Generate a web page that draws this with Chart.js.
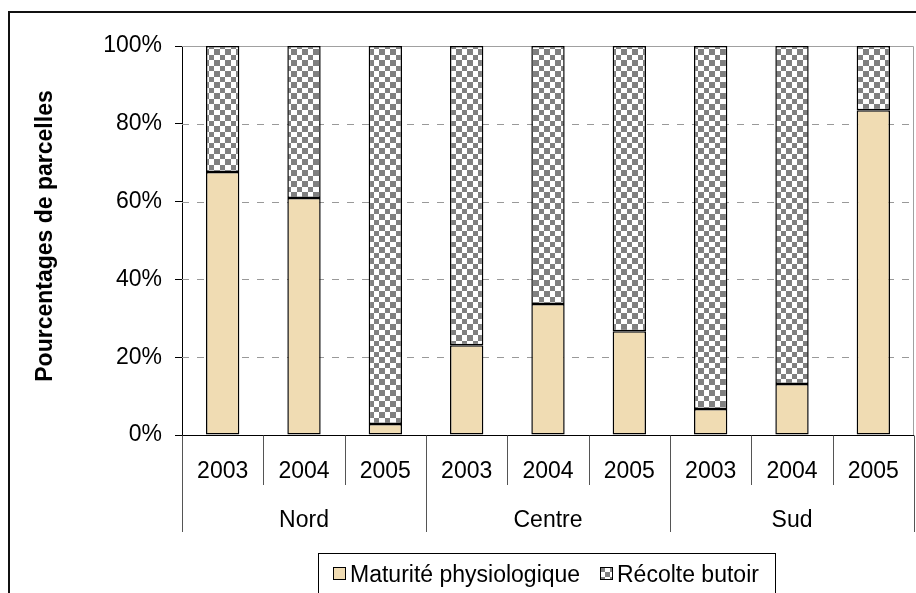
<!DOCTYPE html>
<html><head><meta charset="utf-8">
<script src="https://cdn.jsdelivr.net/npm/chart.js@4/dist/chart.umd.min.js"></script>
<style>
html,body{margin:0;padding:0;background:#fff;overflow:hidden}
#wrap{position:relative;width:916px;height:593px;overflow:hidden}
#frame{position:absolute;left:8px;top:11px;width:920px;height:600px;border:2px solid #111}
canvas{position:absolute;left:0;top:0}
</style></head>
<body><div id="wrap"><div id="frame"></div><canvas id="c" width="916" height="593"></canvas></div>
<script>
const years = ['2003','2004','2005','2003','2004','2005','2003','2004','2005'];
const regions = ['Nord','Centre','Sud'];
const yTicks = [0,20,40,60,80,100];
const maturite = [67.6, 60.9, 2.8, 23.1, 33.7, 26.7, 6.7, 13.1, 83.5];
const recolte  = [32.4, 39.1, 97.2, 76.9, 66.3, 73.3, 93.3, 86.9, 16.5];
const seriesNames = ['Maturité physiologique','Récolte butoir'];
const yTitle = 'Pourcentages de parcelles';

const FONT = '"Liberation Sans", Arial, sans-serif';
const beige = '#f0dcb3';

function checker(){
  const c = document.createElement('canvas'); c.width = 11; c.height = 11;
  const x = c.getContext('2d');
  x.fillStyle = '#fff'; x.fillRect(0,0,11,11);
  x.fillStyle = '#808080'; x.fillRect(0,0,5,5); x.fillRect(5,5,6,6);
  return x.createPattern(c,'repeat');
}
const ctx = document.getElementById('c').getContext('2d');
const checkPat = checker();

const decor = {
  id:'decor',
  beforeDatasetsDraw(chart){
    const {ctx, chartArea:a, scales:{y}} = chart;
    ctx.save();
    ctx.strokeStyle = '#999'; ctx.lineWidth = 1;
    ctx.setLineDash([7,8]);
    yTicks.forEach(v=>{
      if(v===0||v===100) return;
      const py = Math.round(y.getPixelForValue(v))+0.5;
      ctx.beginPath(); ctx.moveTo(a.left,py); ctx.lineTo(a.right,py); ctx.stroke();
    });
    ctx.setLineDash([]);
    ctx.strokeStyle = '#a0a0a0';
    const pt = Math.round(y.getPixelForValue(100))+0.5;
    ctx.beginPath(); ctx.moveTo(a.left,pt); ctx.lineTo(a.right-0.5,pt);
    ctx.lineTo(a.right-0.5,a.bottom); ctx.stroke();
    ctx.restore();
  },
  afterDraw(chart){
    const {ctx, chartArea:a, scales:{x}} = chart;
    ctx.save();
    const b = Math.round(a.bottom)+0.5;
    ctx.strokeStyle = '#000'; ctx.lineWidth = 1;
    ctx.beginPath(); ctx.moveTo(a.left,b); ctx.lineTo(a.right,b); ctx.stroke();
    const w = (a.right-a.left)/years.length;
    ctx.strokeStyle = '#555';
    for(let i=0;i<=years.length;i++){
      const px = Math.round(a.left + i*w)+0.5;
      const long = i%3===0;
      ctx.beginPath(); ctx.moveTo(px,b); ctx.lineTo(px, long?532:485); ctx.stroke();
    }
    ctx.fillStyle = '#000';
    ctx.font = '23px '+FONT; ctx.textAlign='center'; ctx.textBaseline='alphabetic';
    years.forEach((yr,i)=>{ ctx.fillText(yr, x.getPixelForValue(i), 478); });
    regions.forEach((r,g)=>{ ctx.fillText(r, a.left + (g*3+1.5)*w, 527); });
    // y title
    ctx.save();
    ctx.translate(46,236); ctx.rotate(-Math.PI/2);
    ctx.font = 'bold 23px '+FONT; ctx.textBaseline='middle';
    ctx.fillText(yTitle,0,0);
    ctx.restore();
    // legend
    ctx.strokeStyle='#000'; ctx.lineWidth=1;
    ctx.strokeRect(318.5,553.5,457,60);
    ctx.font = '23px '+FONT; ctx.textAlign='left';
    const items = [{x:333, fill:beige, label:seriesNames[0]},{x:600, fill:checkPat, label:seriesNames[1]}];
    items.forEach(it=>{
      ctx.fillStyle = it.fill; ctx.fillRect(it.x+0.5,567.5,12,12);
      ctx.strokeStyle='#000'; ctx.strokeRect(it.x+0.5,567.5,12,12);
      ctx.fillStyle='#000'; ctx.fillText(it.label, it.x+17, 582);
    });
    ctx.restore();
  }
};

new Chart(ctx,{
  type:'bar',
  data:{
    labels: years,
    datasets:[
      {label:seriesNames[0], data:maturite, backgroundColor:beige, borderColor:'#000', borderWidth:1.5, borderSkipped:false, barPercentage:0.41, categoryPercentage:1},
      {label:seriesNames[1], data:recolte, backgroundColor:checkPat, borderColor:'#000', borderWidth:1.5, borderSkipped:false, barPercentage:0.41, categoryPercentage:1}
    ]
  },
  options:{
    responsive:false, animation:false, devicePixelRatio:1,
    layout:{padding:{left:0,right:2,top:46,bottom:0}},
    plugins:{legend:{display:false}, tooltip:{enabled:false}},
    scales:{
      x:{stacked:true, grid:{display:false}, border:{display:false}, ticks:{display:false},
         afterFit(s){ s.height = 158; }},
      y:{stacked:true, min:0, max:100,
         afterBuildTicks(s){ s.ticks = yTicks.map(v=>({value:v})); },
         ticks:{callback:v=>v+'%', color:'#000', font:{size:23, family:FONT}, padding:13},
         grid:{drawOnChartArea:false, tickLength:7, tickColor:'#000', color:'#000'},
         border:{color:'#000', width:1},
         afterFit(s){ s.width = 182; }}
    }
  },
  plugins:[decor]
});
</script>
</body></html>
